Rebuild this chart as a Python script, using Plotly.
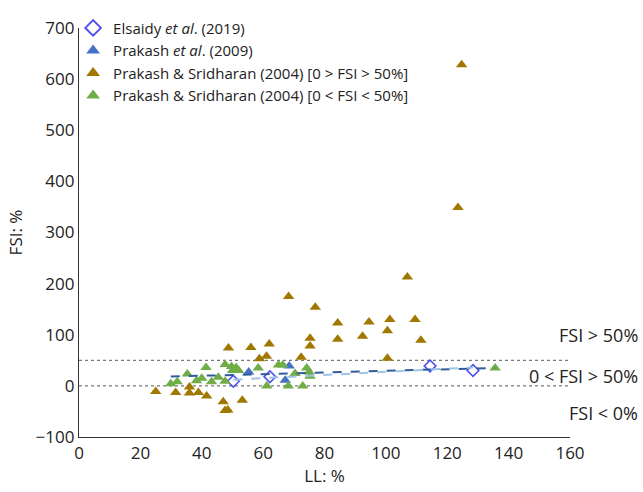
import numpy as np
import plotly.graph_objects as go

# ---- data ----
elsaidy_ll = [50.3, 62.2, 114.4, 128.4]
elsaidy_fsi = [9, 18, 39, 30]

prakash09_ll = [55.3, 67.2, 68.5]
prakash09_fsi = [27, 11, 39]

ps_high_ll = [25, 31.5, 36, 36, 38.9, 41.6, 47, 47.6, 48.5, 48.7, 53.2, 56, 58.8, 61.1,
              62, 68.3, 72.4, 75.3, 75.3, 77, 84.3, 84.3, 92.4, 94.5, 100.5, 100.5,
              101.3, 107, 109.5, 111.4, 123.5, 124.7]
ps_high_fsi = [-11, -13, -2, -14, -13, -20, -31, -48, -47, 74, -28, 75, 53, 58,
               82, 175, 56, 93, 78, 154, 123, 91, 97, 125, 108, 54,
               130, 213, 130, 89, 349, 628]

ps_low_ll = [29.9, 32, 35.3, 38.3, 40, 41.4, 43.2, 45.4, 47.6, 47.6, 49.7, 50, 51.2, 52,
             58.4, 61.2, 65, 66.4, 68.2, 70.4, 72.9, 74.2, 75, 75.3, 135.6]
ps_low_fsi = [4, 8, 23, 10, 15, 36, 8, 17, 42, 9, 38, 30, 36, 30,
              35, 0, 41, 41, 0, 24, 0, 35, 27, 19, 35]

thresholds = [50, 0]
zone_labels = ["FSI > 50%", "0 < FSI > 50%", "FSI < 0%"]
zone_label_y = [99, 20, -53]

x_ticks = list(range(0, 161, 20))
y_ticks = list(range(-100, 701, 100))

font = "Open Sans, Segoe UI, sans-serif"

fig = go.Figure()

fig.add_trace(go.Scatter(
    x=elsaidy_ll, y=elsaidy_fsi, mode="markers",
    name="Elsaidy <i>et al</i>. (2019)",
    marker=dict(symbol="diamond-open", size=9, color="#5050F0", line=dict(width=1.6))))
fig.add_trace(go.Scatter(
    x=prakash09_ll, y=prakash09_fsi, mode="markers",
    name="Prakash <i>et al</i>. (2009)",
    marker=dict(symbol="triangle-up", size=10, color="#4472C4")))
fig.add_trace(go.Scatter(
    x=ps_high_ll, y=ps_high_fsi, mode="markers",
    name="Prakash &amp; Sridharan (2004) [0 &gt; FSI &gt; 50%]",
    marker=dict(symbol="triangle-up", size=10, color="#A07800")))
fig.add_trace(go.Scatter(
    x=ps_low_ll, y=ps_low_fsi, mode="markers",
    name="Prakash &amp; Sridharan (2004) [0 &lt; FSI &lt; 50%]",
    marker=dict(symbol="triangle-up", size=10, color="#70AD47")))

# linear trendlines computed from the data
def trend(xs, ys):
    xs = np.array(xs, float); ys = np.array(ys, float)
    m, b = np.polyfit(xs, ys, 1)
    xx = np.array([xs.min(), xs.max()])
    return xx, m * xx + b

tx, ty = trend(ps_low_ll, ps_low_fsi)
fig.add_trace(go.Scatter(x=tx, y=ty, mode="lines", showlegend=False,
                         line=dict(color="#2F5D9A", width=2, dash="dash"), hoverinfo="skip"))
tx, ty = trend(elsaidy_ll, elsaidy_fsi)
fig.add_trace(go.Scatter(x=tx, y=ty, mode="lines", showlegend=False,
                         line=dict(color="#9DC3E6", width=2, dash="dash"), hoverinfo="skip"))

for t in thresholds:
    fig.add_shape(type="line", xref="x", yref="y", x0=x_ticks[0], x1=x_ticks[-1], y0=t, y1=t,
                  line=dict(color="#555555", width=1, dash="dot"), layer="below")

for lab, yy in zip(zone_labels, zone_label_y):
    fig.add_annotation(text=lab, xref="paper", yref="y", x=1.1426, y=yy,
                       xanchor="right", yanchor="middle", showarrow=False,
                       font=dict(family=font, size=18, color="#222222"))

fig.update_layout(
    width=643, height=492,
    margin=dict(l=79, r=73, t=17, b=55),
    plot_bgcolor="white", paper_bgcolor="white",
    font=dict(family=font, size=17, color="#222222"),
    showlegend=True,
    legend=dict(x=-0.012, y=1.04, xanchor="left", yanchor="top",
                font=dict(family=font, size=15, color="#222222"),
                bgcolor="rgba(255,255,255,0)", itemsizing="constant",
                tracegroupgap=0, itemwidth=30),
    xaxis=dict(range=[0, 160], tickvals=x_ticks, showgrid=False, zeroline=False,
               showline=True, linecolor="#333333", linewidth=1.3, ticks="",
               title=dict(text="LL: %", standoff=6, font=dict(size=17)),
               tickfont=dict(size=17)),
    yaxis=dict(range=[-100, 700], tickvals=y_ticks, showgrid=False, zeroline=False,
               showline=True, linecolor="#333333", linewidth=1.3, ticks="",
               title=dict(text="FSI: %", standoff=8, font=dict(size=17)),
               tickfont=dict(size=17)),
)

fig.write_html("out.html")
